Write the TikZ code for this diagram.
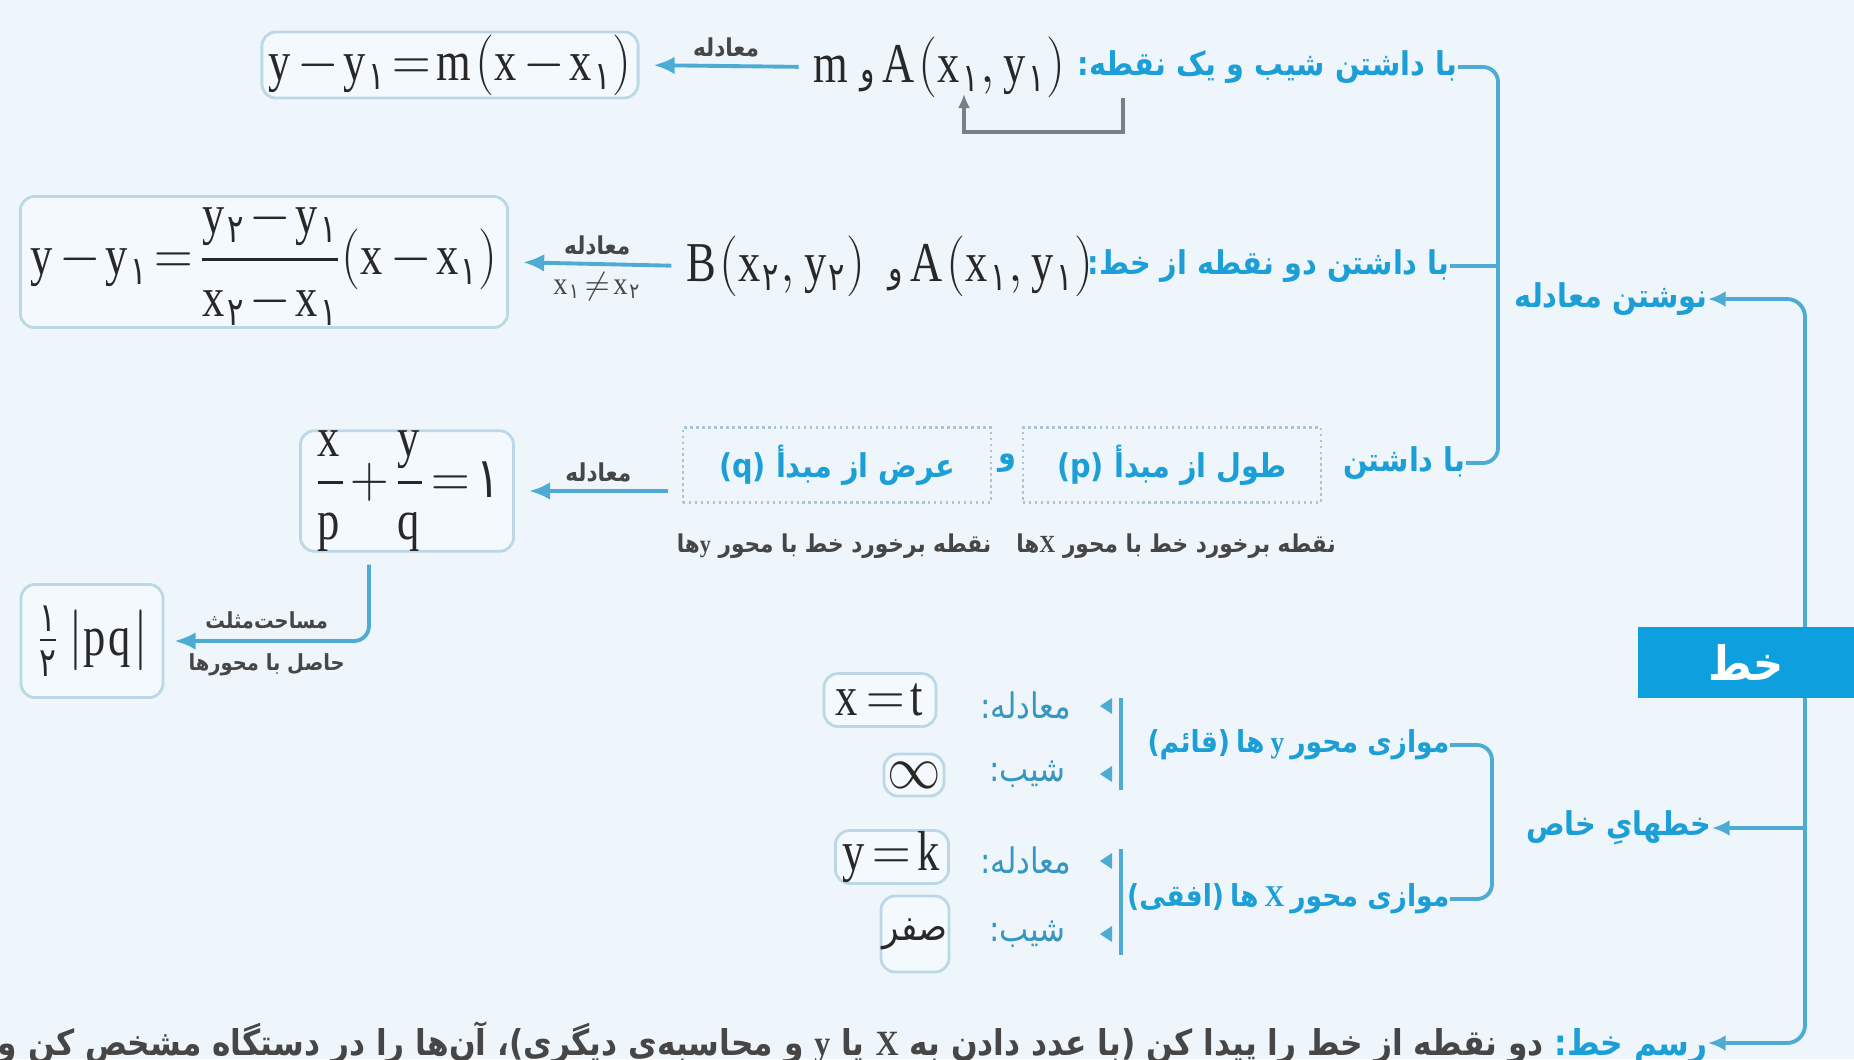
\documentclass[tikz,border=0pt]{standalone}
\usepackage{amsmath}
\usepackage{graphicx}
\usepackage{fontspec}
\setmainfont[FakeStretch=0.9]{Liberation Serif}
\newfontfamily\fa[Script=Arabic,FakeStretch=0.88]{DejaVu Sans}
\newfontfamily\lat[FakeStretch=0.88]{DejaVu Sans}
\TeXXeTstate=1
\thickmuskip=2mu
\medmuskip=1.5mu
\usetikzlibrary{arrows.meta}

\definecolor{bgcol}{RGB}{238,246,251}
\definecolor{maincol}{RGB}{14,160,222}
\definecolor{linecol}{RGB}{78,172,212}
\definecolor{labcol}{RGB}{28,158,214}
\definecolor{boxcol}{RGB}{188,216,230}
\definecolor{boxfill}{RGB}{243,249,253}
\definecolor{dotcol}{RGB}{170,198,214}
\definecolor{inkcol}{RGB}{40,40,40}
\definecolor{notecol}{RGB}{70,70,70}
\definecolor{slopecol}{RGB}{120,128,135}

\newcommand\rtl[1]{\beginR#1\endR}
\newcommand\nar[1]{\scalebox{0.88}[1]{#1}}
\newcommand\one{\text{\fa ۱}}
\newcommand\two{\text{\fa ۲}}
\newcommand\halfd[1]{\text{\fa\fontsize{11.5}{12}\selectfont #1}}
\newcommand\zw{\char"200C\relax}
\newcommand\gap{\hspace{0.2em}}

\tikzset{
  conn/.style={draw=linecol, line width=1.1pt},
  toarrow/.style={-{Latex[length=5pt,width=4.5pt]}},
  lab/.style={font=\fa\bfseries\fontsize{9.3}{11}\selectfont, text=labcol, inner sep=0pt, anchor=east},
  sublab/.style={lab, font=\fa\bfseries\fontsize{8.6}{11}\selectfont},
  eqbox/.style={draw=boxcol, fill=boxfill, rounded corners=4pt, line width=0.8pt, inner sep=0pt, text=inkcol, font=\fontsize{16}{19}\selectfont},
  dotbox/.style={draw=dotcol, densely dotted, line width=0.7pt, inner sep=0pt, text=labcol, font=\fa\bfseries\fontsize{9.3}{11}\selectfont},
  pts/.style={inner sep=0pt, anchor=east, text=inkcol, font=\fontsize{16}{19}\selectfont},
  eqword/.style={font=\fa\bfseries\fontsize{7}{8}\selectfont, text=notecol, inner sep=2pt},
  areaword/.style={font=\fa\bfseries\fontsize{6.3}{8}\selectfont, text=notecol, inner sep=3pt},
  note/.style={font=\fa\bfseries\fontsize{7}{9}\selectfont, text=notecol, inner sep=0pt},
  graylab/.style={font=\fa\fontsize{10}{12}\selectfont, text=labcol!75!gray, inner sep=0pt, anchor=east},
  eqarrow/.style={conn, -{Latex[length=6pt,width=5pt]}, shorten >=0.14cm, shorten <=0.14cm},
}

\begin{document}
\begin{tikzpicture}[x=0.01cm, y=-0.01cm]
\useasboundingbox (0,0) rectangle (1854,1059);
\fill[bgcol] (0,0) rectangle (1854,1059);

% first level labels
\node[lab] (neweq) at (1708,299) {\rtl{نوشتن معادله}};
\node[lab] (special) at (1712,828) {\rtl{خطهایِ خاص}};
\node[lab, text=notecol, font=\fa\bfseries\fontsize{10.1}{12}\selectfont] (rasm) at (1708,1043) {\rtl{آن\zw ها را در دستگاه مشخص کن و}\ ،{\lat(}\rtl{و محاسبه\zw ی دیگری}\ {\rmfamily y}\ \rtl{یا}\ {\rmfamily X}\ \rtl{با عدد دادن به}{\lat)}\ \rtl{دو نقطه از خط را پیدا کن}\ {\color{labcol}:\rtl{رسم خط}}};

% slope and one point
\node[lab] (r1lab) at (1458,67) {:\rtl{با داشتن شیب و یک نقطه}};
\node[pts] (r1pt) at (1066,67) {\nar{$\mathrm{m}$\,{\fa\fontsize{11}{12}\selectfont و}\,$\mathrm{A(x_{\one},y_{\one})}$}};
\node[eqbox, minimum width=3.76cm, minimum height=0.66cm] (box1) at (450,65) {\nar{$\mathrm{y-y_{\one}=m(x-x_{\one})}$}};
\draw[eqarrow] (r1pt.west) -- node[above, eqword] {\rtl{معادله}} (box1.east);
\coordinate (slopefrom) at (1123,98);
\coordinate (slopeto) at (964,94);
\draw[draw=slopecol, line width=0.9pt, -{Latex[length=4pt,width=3.5pt]}] (slopefrom) -- ++(0,34) -| (slopeto);

% two points
\node[lab] (r2lab) at (1450,266) {:\rtl{با داشتن دو نقطه از خط}};
\node[pts] (r2pts) at (1094,266) {\nar{$\mathrm{B(x_{\two},y_{\two})}$\ \ {\fa\fontsize{11}{12}\selectfont و}\,$\mathrm{A(x_{\one},y_{\one})}$}};
\node[eqbox, minimum width=4.87cm, minimum height=1.31cm] (box2) at (264,262) {\nar{$\mathrm{y-y_{\one}=\dfrac{y_{\two}-y_{\one}}{x_{\two}-x_{\one}}(x-x_{\one})}$}};
\draw[eqarrow] (r2pts.west) -- node[above, eqword] {\rtl{معادله}} node[below, eqword, font=\fontsize{9}{10}\selectfont] {$\mathrm{x_{\one}\neq x_{\two}}$} (box2.east);

% intercepts
\node[lab] (r3lab) at (1466,463) {\rtl{با داشتن}};
\node[dotbox, minimum width=2.98cm, minimum height=0.75cm] (pbox) at (1172,465) {{\lat(p)}\ \rtl{طول از مبدأ}};
\node[lab, anchor=center] (wa) at (1007,463) {\rtl{و}};
\node[dotbox, minimum width=3.08cm, minimum height=0.75cm] (qbox) at (837,465) {{\lat(q)}\ \rtl{عرض از مبدأ}};
\node[note] (pnote) at (1176,546) {\rtl{ها}{\rmfamily X}\ \rtl{نقطه برخورد خط با محور}};
\node[note] (qnote) at (834,546) {\rtl{ها}{\rmfamily y}\ \rtl{نقطه برخورد خط با محور}};
\node[eqbox, minimum width=2.13cm, minimum height=1.18cm] (box3) at (407,491) {\nar{$\mathrm{\dfrac{x}{p}+\dfrac{y}{q}=\one}$}};
\draw[eqarrow] (qbox.west |- box3.east) -- node[above, eqword] {\rtl{معادله}} (box3.east);
\node[eqbox, minimum width=1.42cm, minimum height=1.13cm] (box4) at (92,641) {\nar{$\mathrm{\tfrac{\halfd{۱}}{\halfd{۲}}\,|pq|}$}};
\draw[conn, -{Latex[length=6pt,width=5pt]}, rounded corners=0.15cm, shorten <=0.12cm, shorten >=0.1cm] ([xshift=-0.38cm]box3.south) |- node[pos=0.75, above, areaword] {\rtl{مساحت\zw مثلث}} node[pos=0.75, below, areaword] {\rtl{حاصل با محورها}} (box4.east);

\coordinate (eqspine) at (1498,266);
\draw[conn, rounded corners=0.15cm] (r1lab.east) -| (eqspine) |- (r3lab.east);
\draw[conn] (r2lab.east) -- (eqspine);

% special lines
\node[sublab] (vlab) at (1450,745) {{\lat(}\rtl{قائم}{\lat)}\gap\rtl{ها}\gap{\rmfamily y}\gap\rtl{موازی محور}};
\node[sublab] (hlab) at (1450,899) {{\lat(}\rtl{افقی}{\lat)}\gap\rtl{ها}\gap{\rmfamily X}\gap\rtl{موازی محور}};
\coordinate (spspine) at (1492,828);
\draw[conn, rounded corners=0.15cm] (vlab.east) -| (spspine) |- (hlab.east);
\foreach \ya/\yb in {698/790, 849/955} \draw[conn] (1121,\ya) -- (1121,\yb);
\foreach \yy in {706,774,861,934} \fill[linecol] (1112,\yy-8) -- (1112,\yy+8) -- (1100,\yy) -- cycle;
\node[graylab] (veq) at (1072,706) {:\rtl{معادله}};
\node[graylab] (vsl) at (1066,774) {:\rtl{شیب}};
\node[graylab] (heq) at (1072,861) {:\rtl{معادله}};
\node[graylab] (hsl) at (1066,934) {:\rtl{شیب}};
\node[eqbox, minimum width=1.12cm, minimum height=0.53cm] (xt) at (880,700) {\nar{$\mathrm{x=t}$}};
\node[eqbox, minimum width=0.6cm, minimum height=0.42cm] (inf) at (914,775) {\nar{$\infty$}};
\node[eqbox, minimum width=1.13cm, minimum height=0.53cm] (yk) at (892,857) {\nar{$\mathrm{y=k}$}};
\node[eqbox, minimum width=0.68cm, minimum height=0.76cm, font=\fa\fontsize{11}{12}\selectfont] (sefr) at (915,934) {\rtl{صفر}};

% trunk
\coordinate (trunk) at (1805,662);
\coordinate (trunkmid) at (1805,828);
\draw[conn, {Latex[length=5pt,width=4.5pt]}-{Latex[length=5pt,width=4.5pt]}, rounded corners=0.18cm] (neweq.east) -| (trunk) |- (rasm.east);
\draw[conn, toarrow] (trunkmid) -- (special.east);
\node[fill=maincol, text=white, minimum width=2.16cm, minimum height=0.71cm, inner sep=0pt, font=\fa\bfseries\fontsize{13.5}{16}\selectfont] (khat) at (1746,662) {\rtl{خط}};
\end{tikzpicture}
\end{document}
